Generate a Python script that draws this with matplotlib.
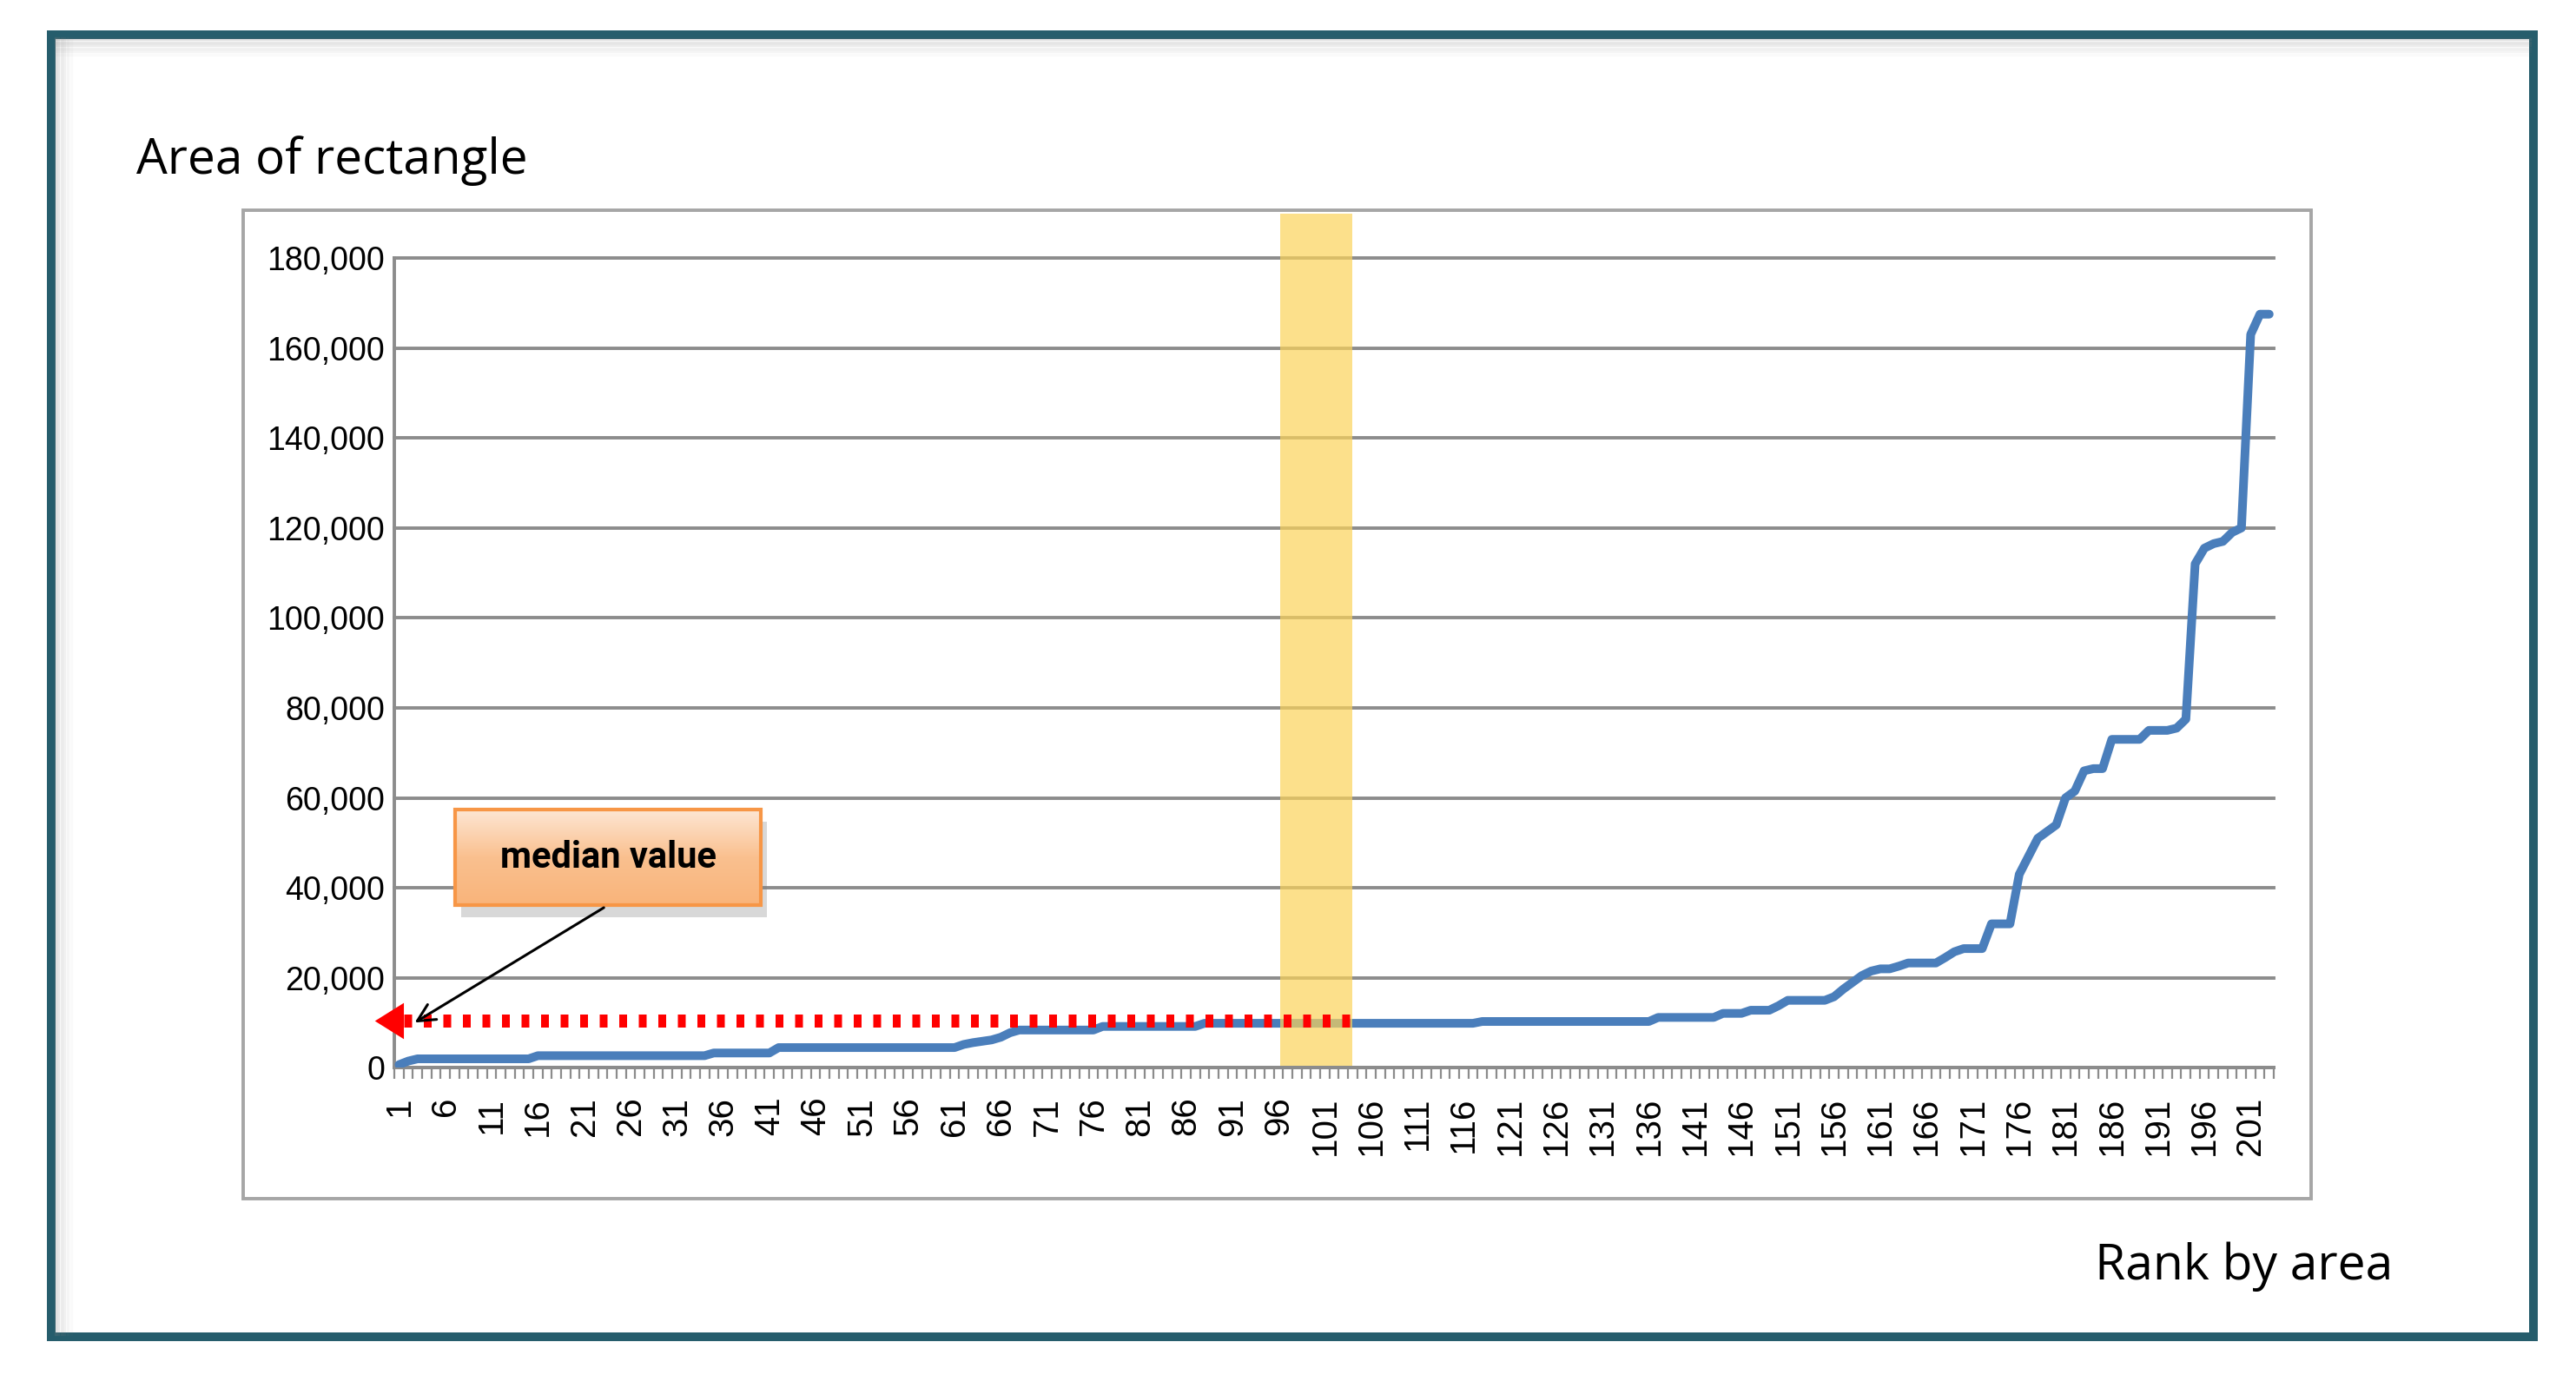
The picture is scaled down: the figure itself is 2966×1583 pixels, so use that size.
import matplotlib.pyplot as plt
import matplotlib
import numpy as np
from matplotlib.patches import Rectangle, FancyArrowPatch
from matplotlib.lines import Line2D
from matplotlib.colors import LinearSegmentedColormap

matplotlib.rcParams['font.family'] = ['Liberation Sans', 'DejaVu Sans']

# area of each rectangle, sorted ascending (rank 1 .. 203)
areas = [
    700, 1500, 2000, 2000, 2000, 2000, 2000, 2000, 2000, 2000, 2000, 2000, 2000, 2000, 2000,
    2700, 2700, 2700, 2700, 2700, 2700, 2700, 2700, 2700, 2700,
    2700, 2700, 2700, 2700, 2700, 2700, 2700, 2700, 2700,
    3300, 3300, 3300, 3300, 3300, 3300, 3300,
    4500, 4500, 4500, 4500, 4500, 4500, 4500, 4500, 4500, 4500,
    4500, 4500, 4500, 4500, 4500, 4500, 4500, 4500, 4500, 4500,
    5200, 5600, 5900, 6200, 6800, 7800,
    8400, 8400, 8400, 8400, 8400, 8400, 8400, 8400, 8400,
    9200, 9200, 9200, 9200, 9200, 9200, 9200, 9200, 9200, 9200, 9200,
    9900, 9900, 9900, 9900, 9900, 9900, 9900, 9900, 9900, 9900,
    9900, 9900, 9900, 9900, 9900, 9900, 9900, 9900, 9900, 9900,
    9900, 9900, 9900, 9900, 9900, 9900, 9900, 9900, 9900, 9900,
    10300, 10300, 10300, 10300, 10300, 10300, 10300, 10300, 10300, 10300,
    10300, 10300, 10300, 10300, 10300, 10300, 10300, 10300, 10300,
    11200, 11200, 11200, 11200, 11200, 11200, 11200,
    12100, 12100, 12100, 12800, 12800, 12800, 13800,
    15000, 15000, 15000, 15000, 15000,
    15800, 17500, 19000, 20500, 21500,
    22000, 22000, 22600, 23300, 23300, 23300, 23300, 24500, 25800,
    26500, 26500, 26500, 32000, 32000, 32000,
    43000, 47000, 51000, 52500, 54000, 60000, 61500, 66000, 66500, 66500,
    73000, 73000, 73000, 73000, 75000, 75000, 75000, 75500, 77500,
    112000, 115500, 116500, 117000, 119000, 120000, 163000, 167500, 167500,
]
ranks = list(range(1, len(areas) + 1))
x_tick_ranks = ranks[::5]
y_ticks = [0, 20000, 40000, 60000, 80000, 100000, 120000, 140000, 160000, 180000]
y_tick_labels = ['0', '20,000', '40,000', '60,000', '80,000', '100,000',
                 '120,000', '140,000', '160,000', '180,000']
median_area = 10400
median_band = [96.2, 104.0]

fig = plt.figure(figsize=(14.83, 7.915), dpi=200)

# outer frame + soft inner shadow on top/left
fig.add_artist(Rectangle((0.0198, 0.0275), 0.9636, 0.9474, transform=fig.transFigure,
                         fill=False, ec='#265D6C', lw=3.6))
for i in range(6):
    a = 0.22 * (1 - i / 6)
    fig.add_artist(Line2D([0.0215, 0.982], [0.9715 - i * 0.0022] * 2, transform=fig.transFigure,
                          color='gray', alpha=a, lw=1.2))
    fig.add_artist(Line2D([0.0215 + i * 0.0012] * 2, [0.03, 0.972], transform=fig.transFigure,
                          color='gray', alpha=a, lw=1.2))

# chart area box
fig.add_artist(Rectangle((0.0944, 0.128), 0.8029, 0.719, transform=fig.transFigure,
                         fill=False, ec='#A6A6A6', lw=1.4))

ax = fig.add_axes([0.1531, 0.2234, 0.7296, 0.589])
ax.plot(ranks, areas, color='#4A7EBB', lw=3.6, solid_joinstyle='round',
        solid_capstyle='round', zorder=3)
ax.axvspan(median_band[0], median_band[1], ymin=0.003, ymax=1.055, color='#FBD35A',
           alpha=0.7, lw=0, zorder=4, clip_on=False)
ax.plot([1.5, median_band[1] - 0.2], [median_area, median_area], color='#FF0000', lw=5.4,
        dashes=(0.6, 0.9), dash_capstyle='butt', zorder=5, clip_on=False)
ax.annotate('', xy=(-1.6, median_area), xytext=(1.6, median_area),
            arrowprops=dict(arrowstyle='-|>,head_length=12,head_width=7.5', mutation_scale=1,
                            color='#FF0000', lw=0, shrinkA=0, shrinkB=0),
            annotation_clip=False, zorder=6)

ax.set_xlim(0.5, len(areas) + 0.5)
ax.set_ylim(0, 180000)
ax.set_yticks(y_ticks)
ax.set_yticklabels(y_tick_labels)
ax.set_xticks(x_tick_ranks)
ax.set_xticklabels([str(r) for r in x_tick_ranks], rotation=90)
ax.set_xticks(np.arange(0.5, len(areas) + 1, 1), minor=True)
ax.tick_params(axis='x', which='major', length=0, pad=12, labelsize=14.5)
ax.tick_params(axis='x', which='minor', length=4.7, width=0.8, color='#8C8C8C')
ax.tick_params(axis='y', length=0, pad=4, labelsize=13.5)
ax.yaxis.grid(True, color='#8C8C8C', lw=1.4)
ax.set_axisbelow(True)
for gl in ax.get_ygridlines():
    gl.set_clip_on(False)
for s in ['top', 'right']:
    ax.spines[s].set_visible(False)
for s in ['left', 'bottom']:
    ax.spines[s].set_color('#8C8C8C')
    ax.spines[s].set_linewidth(1.4)

# titles
fig.text(0.0529, 0.8737, 'Area of rectangle', fontsize=20.4, va='baseline',
         family=['Open Sans', 'DejaVu Sans'])
fig.text(0.8131, 0.0695, 'Rank by area', fontsize=20.5, va='baseline',
         family=['Open Sans', 'DejaVu Sans'])

# "median value" callout box (with drop shadow)
shadow = Rectangle((0.1790, 0.3330), 0.1186, 0.0693, transform=fig.transFigure,
                   fc='gray', ec='none', alpha=0.3, zorder=2)
fig.add_artist(shadow)
bax = fig.add_axes([0.1767, 0.3417, 0.1186, 0.0693])
bax.set_zorder(3)
grad = np.linspace(0, 1, 100).reshape(-1, 1)
cmap = LinearSegmentedColormap.from_list('peach', ['#FDE6D3', '#FAC08F', '#F9B47A'])
bax.imshow(grad, aspect='auto', cmap=cmap, extent=[0, 1, 0, 1], origin='upper')
bax.add_patch(Rectangle((0, 0), 1, 1, transform=bax.transAxes, fill=False,
                        ec='#F79646', lw=1.5, clip_on=False))
bax.set_axis_off()
bax.text(0.5, 0.5, 'median value', ha='center', va='center', fontsize=15, fontweight='bold',
         family=['Roboto', 'Liberation Sans'], transform=bax.transAxes)

fig.add_artist(FancyArrowPatch((0.236, 0.3417), (0.1594, 0.2545), transform=fig.transFigure,
                               arrowstyle='->,head_length=0.6,head_width=0.3', mutation_scale=12,
                               color='black', lw=1.1, zorder=4))

plt.savefig('out.png', dpi=200)
